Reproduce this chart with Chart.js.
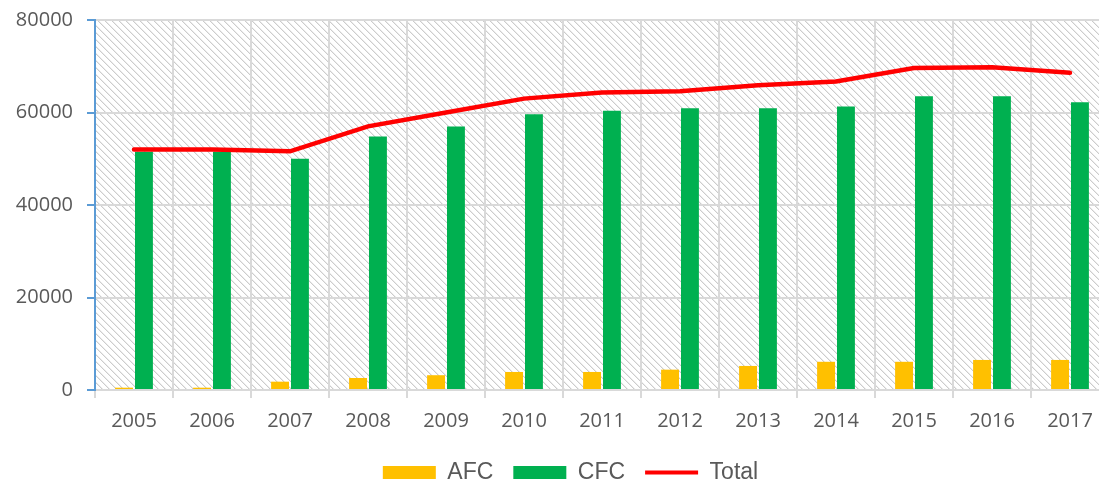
<!DOCTYPE html>
<html>
<head>
<meta charset="utf-8">
<script src="https://cdn.jsdelivr.net/npm/chart.js@4.4.1/dist/chart.umd.min.js"></script>
<style>
  html, body { margin: 0; padding: 0; background: #fff; overflow: hidden; }
  #wrap { position: relative; width: 1109px; height: 481px; }
</style>
</head>
<body>
<div id="wrap"><canvas id="chart"></canvas></div>
<script>
'use strict'

// データ
const years = ['2005', '2006', '2007', '2008', '2009', '2010', '2011', '2012', '2013', '2014', '2015', '2016', '2017'];
const afc = [500, 500, 1800, 2600, 3200, 3900, 3900, 4400, 5200, 6100, 6100, 6500, 6500];
const cfc = [51500, 51500, 50000, 54800, 57000, 59600, 60400, 60900, 60900, 61300, 63500, 63500, 62200];
const total = [52000, 52000, 51600, 57000, 60000, 63000, 64300, 64600, 65900, 66700, 69600, 69800, 68600];
const yTicks = [0, 20000, 40000, 60000, 80000];

// 斜線の背景
const hatchCanvas = document.createElement('canvas');
hatchCanvas.width = 7;
hatchCanvas.height = 7;
{
  const g = hatchCanvas.getContext('2d');
  for (let i = 0; i < 7; i++) {
    g.fillStyle = '#cccccc';
    g.fillRect(i, i, 1, 1);
    g.fillStyle = '#ececec';
    g.fillRect((i + 1) % 7, i, 1, 1);
  }
}

const hatchPlugin = {
  id: 'hatch',
  beforeDraw(chart) {
    const {ctx, chartArea} = chart;
    ctx.save();
    ctx.fillStyle = ctx.createPattern(hatchCanvas, 'repeat');
    ctx.fillRect(chartArea.left, chartArea.top, chartArea.right - chartArea.left, chartArea.bottom - chartArea.top);
    ctx.restore();
  }
};

// 凡例を少し右へ
const legendShift = {
  id: 'legendShift',
  afterLayout(chart) {
    chart.legend.left += 32;
  }
};

const tickFont = { family: '"Open Sans", sans-serif', size: 20 };

const ctx = document.getElementById('chart');
const myChart = new Chart(ctx, {
  data: {
    labels: years,
    datasets: [
      {
        type: 'bar',
        label: 'AFC',
        data: afc,
        backgroundColor: '#ffc000',
        barPercentage: 0.9,
        categoryPercentage: 0.51,
        order: 1
      },
      {
        type: 'bar',
        label: 'CFC',
        data: cfc,
        backgroundColor: '#00b050',
        barPercentage: 0.9,
        categoryPercentage: 0.51,
        order: 1
      },
      {
        type: 'line',
        label: 'Total',
        data: total,
        borderColor: '#ff0000',
        backgroundColor: '#ff0000',
        borderWidth: 4.5,
        borderCapStyle: 'round',
        pointRadius: 0,
        tension: 0,
        order: 0
      }
    ]
  },
  options: {
    responsive: true,
    maintainAspectRatio: false,
    animation: false,
    layout: {
      padding: { left: 0, top: 0, right: 0, bottom: -13 }
    },
    scales: {
      x: {
        offset: true,
        afterFit: axis => {
          axis.height -= 3;
        },
        grid: {
          offset: true,
          color: '#d9d9d9',
          lineWidth: 2,
          tickLength: 8,
          tickColor: '#d9d9d9'
        },
        border: { color: '#d9d9d9', width: 2 },
        ticks: {
          color: '#595959',
          font: tickFont,
          padding: 11,
          maxRotation: 0
        }
      },
      y: {
        min: 0,
        max: 80000,
        afterBuildTicks: axis => {
          axis.ticks = yTicks.map(v => ({ value: v }));
        },
        afterFit: axis => {
          axis.width = 95;
          axis.paddingTop = 20;
          axis.paddingBottom = 0;
        },
        grid: {
          color: '#d9d9d9',
          lineWidth: 2,
          tickLength: 8,
          tickColor: '#5b9bd5'
        },
        border: { color: '#5b9bd5', width: 2 },
        ticks: {
          color: '#595959',
          font: tickFont,
          padding: 14,
          callback: value => String(value)
        }
      }
    },
    plugins: {
      tooltip: { enabled: false },
      legend: {
        position: 'bottom',
        labels: {
          color: '#595959',
          font: { family: '"Liberation Sans", Arial, sans-serif', size: 23 },
          usePointStyle: true,
          pointStyleWidth: 53,
          boxWidth: 53,
          boxHeight: 13,
          padding: 20,
          sort: (a, b) => a.datasetIndex - b.datasetIndex,
          generateLabels: chart => Chart.defaults.plugins.legend.labels.generateLabels(chart).map(item => {
            if (item.datasetIndex === 2) {
              item.pointStyle = 'line';
              item.lineWidth = 4;
              item.strokeStyle = '#ff0000';
            } else {
              item.pointStyle = 'rect';
              item.lineWidth = 0;
            }
            return item;
          })
        }
      }
    }
  },
  plugins: [hatchPlugin, legendShift]
});
</script>
</body>
</html>
